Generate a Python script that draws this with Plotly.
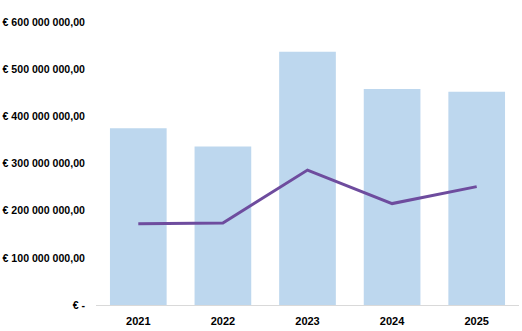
import plotly.graph_objects as go

years = ["2021", "2022", "2023", "2024", "2025"]
bar_values = [375e6, 336e6, 537e6, 458e6, 452e6]
line_values = [172e6, 174e6, 286e6, 215e6, 251e6]
tick_vals = [0, 100e6, 200e6, 300e6, 400e6, 500e6, 600e6]
tick_text = ["€ -", "€ 100 000 000,00", "€ 200 000 000,00", "€ 300 000 000,00",
             "€ 400 000 000,00", "€ 500 000 000,00", "€ 600 000 000,00"]

fig = go.Figure()
fig.add_trace(go.Bar(x=years, y=bar_values, marker=dict(color="#BDD7EE", line=dict(width=0)),
                     hoverinfo="skip"))
fig.add_trace(go.Scatter(x=years, y=line_values, mode="lines",
                         line=dict(color="#6E4C9E", width=3)))

fig.update_layout(
    width=522, height=331,
    margin=dict(l=96, r=3, t=22, b=26),
    paper_bgcolor="white", plot_bgcolor="white",
    showlegend=False, bargap=0.33,
    font=dict(family="Liberation Sans, Arial", size=10, color="#000000"),
)
fig.update_xaxes(showgrid=False, showline=True, linecolor="#D9D9D9", linewidth=1,
                 tickfont=dict(size=11, family="Liberation Sans, Arial", weight="bold"),
                 ticks="", ticklabelstandoff=6)
fig.update_yaxes(range=[0, 600e6], tickvals=tick_vals, ticktext=tick_text,
                 showgrid=False, zeroline=False, showline=False, ticks="",
                 tickfont=dict(size=10.6, family="Liberation Sans, Arial", weight="bold"),
                 ticklabelstandoff=10)

fig.write_html("out.html")
